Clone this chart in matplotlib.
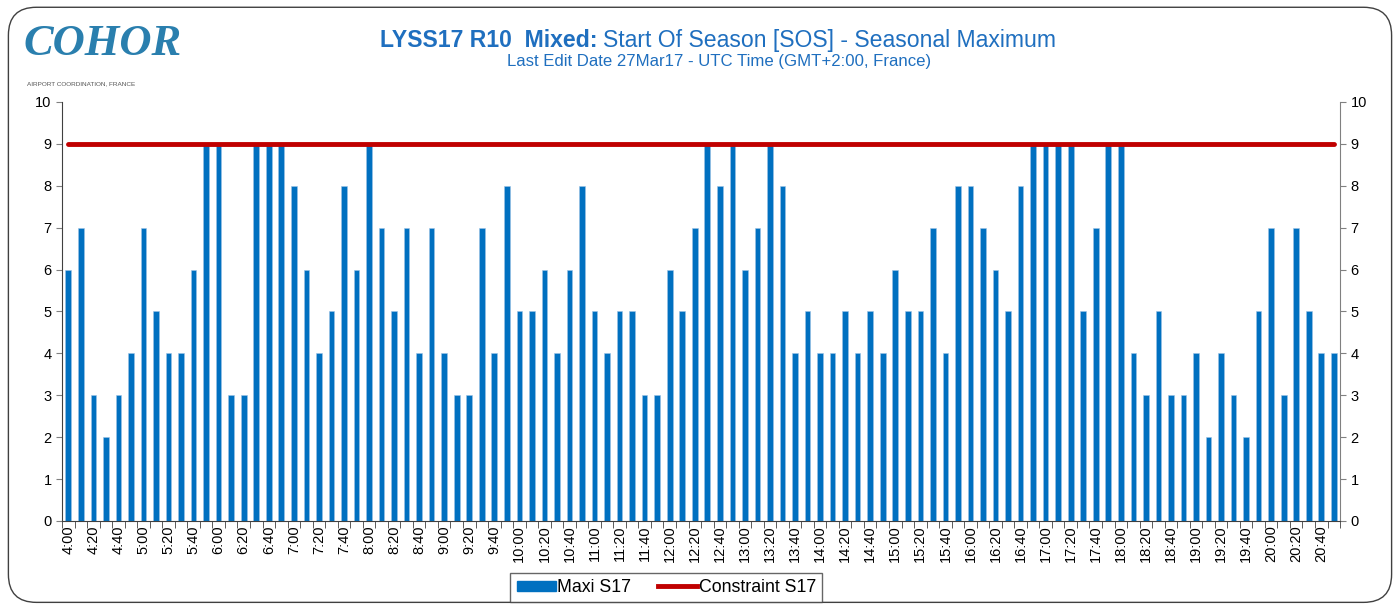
import matplotlib
matplotlib.use("Agg")
import matplotlib.pyplot as plt
from matplotlib.patches import FancyBboxPatch, Patch
from matplotlib.lines import Line2D
import numpy as np

plt.rcParams['font.family'] = ['Liberation Sans', 'DejaVu Sans']

# time slots every 10 minutes from 4:00 to 20:50
slots = [f"{h}:{m:02d}" for h in range(4, 21) for m in range(0, 60, 10)]
maxi_s17 = [6, 7, 3, 2, 3, 4,
            7, 5, 4, 4, 6, 9,
            9, 3, 3, 9, 9, 9,
            8, 6, 4, 5, 8, 6,
            9, 7, 5, 7, 4, 7,
            4, 3, 3, 7, 4, 8,
            5, 5, 6, 4, 6, 8,
            5, 4, 5, 5, 3, 3,
            6, 5, 7, 9, 8, 9,
            6, 7, 9, 8, 4, 5,
            4, 4, 5, 4, 5, 4,
            6, 5, 5, 7, 4, 8,
            8, 7, 6, 5, 8, 9,
            9, 9, 9, 5, 7, 9,
            9, 4, 3, 5, 3, 3,
            4, 2, 4, 3, 2, 5,
            7, 3, 7, 5, 4, 4]
constraint_s17 = [9] * len(slots)

blue = '#0070C0'
red = '#C00000'
title_blue = '#1F6FBF'

fig = plt.figure(figsize=(14, 6.06), dpi=100)
border = FancyBboxPatch((0.006, 0.006), 0.988, 0.982, boxstyle="round,pad=0,rounding_size=0.02",
                        transform=fig.transFigure, fill=False, edgecolor='#404040', linewidth=1.0,
                        mutation_aspect=14/6.06)
fig.patches.append(border)

ax = fig.add_axes([0.0443, 0.1403, 0.9129, 0.6914])
x = np.arange(len(slots))
ax.bar(x, maxi_s17, width=0.45, color=blue, edgecolor='#9DC3E6', linewidth=0.4, zorder=2)
ax.plot(x, constraint_s17, color=red, linewidth=3.5, solid_capstyle='round', zorder=3)

ax.set_xlim(-0.5, len(slots) - 0.5)
ax.set_ylim(0, 10)
ax.set_yticks(range(0, 11))
ax.tick_params(axis='y', labelsize=10.5, length=4, color='#808080', right=True, labelright=True)

ax.set_xticks(np.arange(-0.5, len(slots), 1), minor=True)
ax.set_xticks(x[::2])
ax.set_xticklabels(slots[::2], rotation=90, fontsize=10.5)
ax.tick_params(axis='x', which='major', length=0, pad=3)
ax.tick_params(axis='x', which='minor', length=5, color='#404040')

ax.spines['top'].set_visible(False)
ax.spines['left'].set_color('#404040')
ax.spines['bottom'].set_color('#404040')
ax.spines['right'].set_color('#808080')

# Logo
fig.text(0.017, 0.928, "COHOR", fontsize=32, fontstyle='italic', fontweight='bold',
         family=['Liberation Serif', 'DejaVu Serif'], color='#2A7FAE',
         va='center', ha='left')
fig.text(0.019, 0.862, "AIRPORT COORDINATION, FRANCE", fontsize=4.6, color='#555555', va='center',
         ha='left')

# Title
fig.text(0.4265, 0.933, "LYSS17 R10  Mixed:", fontsize=16.6, fontweight='bold', color=title_blue,
         ha='right', va='center')
fig.text(0.4305, 0.933, "Start Of Season [SOS] - Seasonal Maximum", fontsize=16.6, color=title_blue,
         ha='left', va='center')
fig.text(0.5135, 0.899, "Last Edit Date 27Mar17 - UTC Time (GMT+2:00, France)", fontsize=12.1,
         color=title_blue, ha='center', va='center')

handles = [Patch(facecolor=blue, edgecolor=blue), Line2D([0], [0], color=red, linewidth=3.5)]
leg = fig.legend(handles, ['Maxi S17', 'Constraint S17'], loc='center', bbox_to_anchor=(0.476, 0.0305),
                 ncol=2, frameon=True, fancybox=False, edgecolor='#404040', fontsize=12.8,
                 handlelength=2.2, handleheight=0.5, columnspacing=1.5, handletextpad=0.1,
                 borderpad=0.35)
leg.get_frame().set_linewidth(1.0)

fig.savefig("out.png", dpi=100)
